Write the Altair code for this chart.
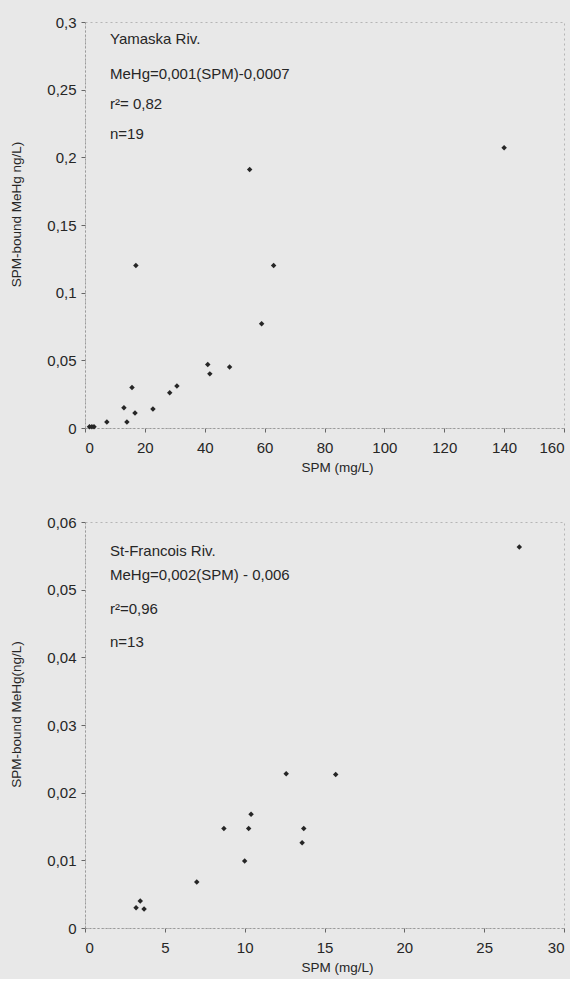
import altair as alt
import pandas as pd

# Yamaska River (n=19)
yam_spm = [1.5, 3.0, 7.3, 13.0, 14.0, 15.7, 16.7, 17.0, 22.7, 28.3, 30.7,
           41.0, 41.7, 48.3, 55.0, 59.0, 63.0, 140.0, 2.3]
yam_mehg = [0.001, 0.001, 0.0044, 0.015, 0.0044, 0.030, 0.011, 0.12, 0.014,
            0.026, 0.031, 0.047, 0.040, 0.045, 0.191, 0.077, 0.12, 0.207, 0.001]

# St-Francois River (n=13)
stf_spm = [3.2, 3.46, 3.7, 7.0, 8.7, 10.0, 10.25, 10.4, 12.6, 13.6, 13.7, 15.7, 27.2]
stf_mehg = [0.003, 0.004, 0.0028, 0.0068, 0.0147, 0.0099, 0.0147, 0.0168,
            0.0228, 0.0126, 0.0147, 0.0227, 0.0563]

yam_xticks = [0, 20, 40, 60, 80, 100, 120, 140, 160]
yam_yticks = [0, 0.05, 0.1, 0.15, 0.2, 0.25, 0.3]
stf_xticks = [0, 5, 10, 15, 20, 25, 30]
stf_yticks = [0, 0.01, 0.02, 0.03, 0.04, 0.05, 0.06]

yam_notes = ["Yamaska Riv.", "MeHg=0,001(SPM)-0,0007", "r\u00b2= 0,82", "n=19"]
stf_notes = ["St-Francois Riv.", "MeHg=0,002(SPM) - 0,006", "r\u00b2=0,96", "n=13"]

FONT = "Liberation Sans"
INK = "#262626"
BG = "#e8e8e8"
W, H = 479, 406


def panel(xs, ys, xticks, yticks, ytitle, notes, note_y):
    df = pd.DataFrame({"spm": xs, "mehg": ys})
    xmax, ymax = xticks[-1], yticks[-1]
    pts = alt.Chart(df).mark_point(
        filled=True, shape="diamond", size=30, color=INK, opacity=1
    ).encode(
        x=alt.X("spm:Q", scale=alt.Scale(domain=[0, xmax], nice=False, zero=True),
                axis=alt.Axis(values=xticks, title="SPM (mg/L)", titleX=252,
                              labelExpr="replace(format(datum.value, '~g'), '.', ',')")),
        y=alt.Y("mehg:Q", scale=alt.Scale(domain=[0, ymax], nice=False),
                axis=alt.Axis(values=yticks, title=ytitle, titleX=-62, titleY=192,
                              labelExpr="replace(format(datum.value, '~g'), '.', ',')")),
    )
    layers = [pts]
    for t, yy in zip(notes, note_y):
        layers.append(
            alt.Chart(pd.DataFrame({"t": [t]})).mark_text(
                align="left", baseline="middle", font=FONT, fontSize=15, color=INK
            ).encode(x=alt.value(25), y=alt.value(yy), text="t:N")
        )
    return alt.layer(*layers).properties(width=W, height=H)


top = panel(yam_spm, yam_mehg, yam_xticks, yam_yticks,
            "SPM-bound MeHg ng/L)", yam_notes, [17, 52, 82, 112])
bottom = panel(stf_spm, stf_mehg, stf_xticks, stf_yticks,
               "SPM-bound MeHg(ng/L)", stf_notes, [29, 53, 87, 120])

chart = alt.vconcat(top, bottom, spacing=40).properties(
    background=BG,
    padding={"left": 8, "top": 14, "right": 5, "bottom": 5},
).configure_view(
    stroke="#b5b5b5", strokeDash=[2, 3], strokeWidth=1
).configure_axis(
    labelFont=FONT, titleFont=FONT, labelFontSize=15, titleFontSize=13.5,
    labelColor=INK, titleColor=INK, titleFontWeight="normal",
    grid=False, domainColor="#9a9a9a", domainDash=[2, 2],
    tickColor="#666", tickSize=4,
).configure_axisY(
    labelPadding=5, titlePadding=10,
).configure_axisX(
    labelPadding=8, titlePadding=5,
)

chart.save("out.html", embed_options={"renderer": "svg", "actions": False})
